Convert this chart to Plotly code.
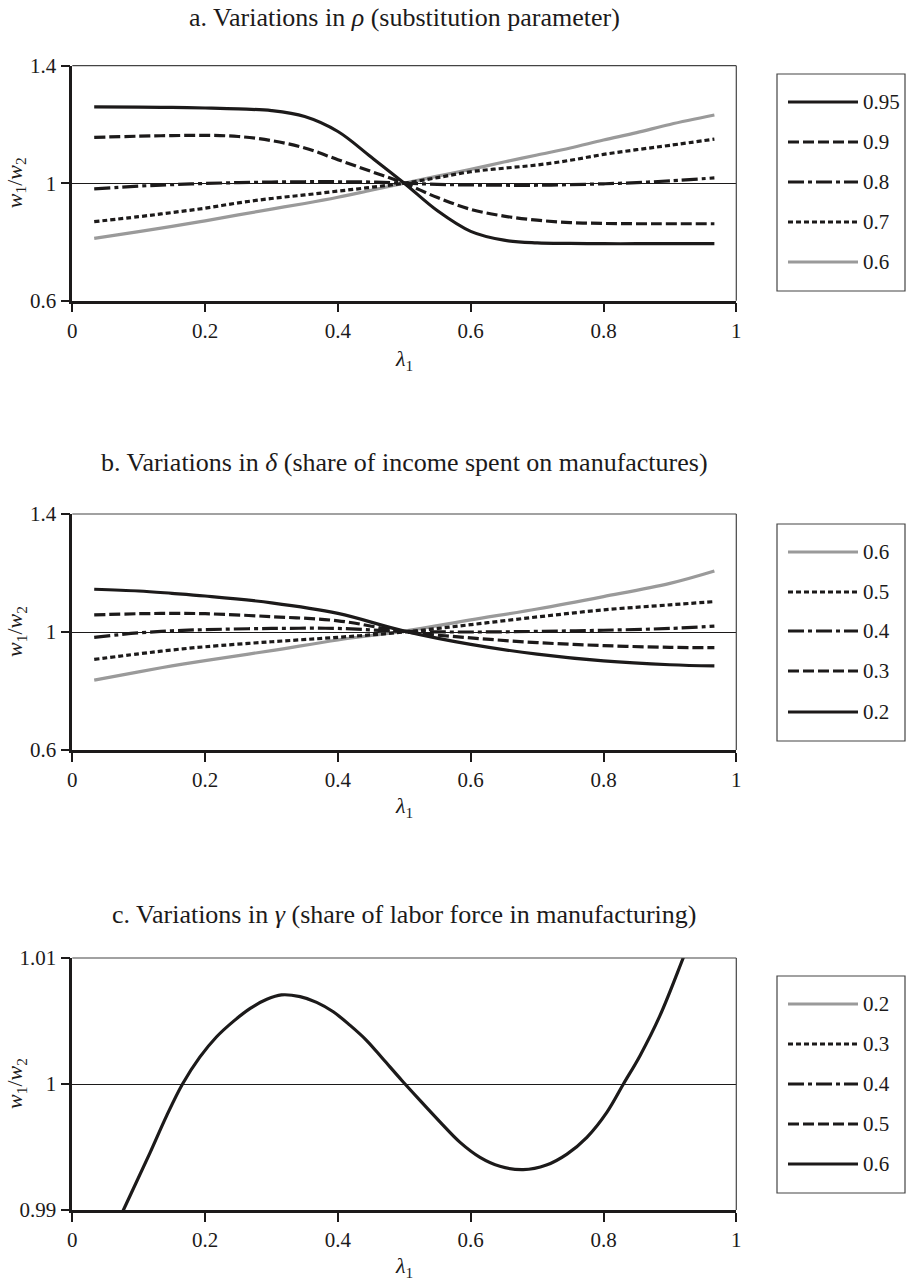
import plotly.graph_objects as go

# ---------------- data ----------------
# lambda_1 grid for panel a
lam_a = [0.033, 0.1, 0.15, 0.2, 0.25, 0.3, 0.35, 0.4, 0.45, 0.5, 0.55, 0.6, 0.65, 0.7, 0.75, 0.8, 0.85, 0.9, 0.967]
# panel a: w1/w2 for different substitution parameters rho
rho_labels = ["0.95", "0.9", "0.8", "0.7", "0.6"]
rho_095 = [1.260, 1.259, 1.258, 1.256, 1.253, 1.247, 1.227, 1.176, 1.089, 1.000, 0.906, 0.836, 0.806, 0.797, 0.795, 0.794, 0.794, 0.794, 0.794]
rho_090 = [1.156, 1.160, 1.162, 1.163, 1.159, 1.145, 1.120, 1.080, 1.040, 1.000, 0.951, 0.911, 0.888, 0.874, 0.866, 0.863, 0.862, 0.862, 0.862]
rho_080 = [0.981, 0.990, 0.995, 0.999, 1.002, 1.004, 1.005, 1.005, 1.004, 1.000, 0.996, 0.994, 0.993, 0.993, 0.995, 0.998, 1.002, 1.008, 1.018]
rho_070 = [0.869, 0.886, 0.900, 0.915, 0.933, 0.948, 0.960, 0.973, 0.986, 1.000, 1.019, 1.039, 1.051, 1.062, 1.078, 1.098, 1.114, 1.129, 1.150]
rho_060 = [0.812, 0.835, 0.853, 0.872, 0.892, 0.912, 0.931, 0.952, 0.976, 1.000, 1.024, 1.047, 1.072, 1.096, 1.120, 1.147, 1.172, 1.200, 1.232]

# panel b: w1/w2 for different shares of income spent on manufactures (delta)
lam_b = [0.033, 0.1, 0.15, 0.2, 0.3, 0.4, 0.5, 0.6, 0.7, 0.8, 0.9, 0.967]
delta_labels = ["0.6", "0.5", "0.4", "0.3", "0.2"]
delta_06 = [0.837, 0.865, 0.885, 0.903, 0.937, 0.973, 1.003, 1.041, 1.078, 1.120, 1.165, 1.207]
delta_05 = [0.907, 0.926, 0.939, 0.950, 0.967, 0.982, 1.000, 1.025, 1.051, 1.075, 1.092, 1.103]
delta_04 = [0.982, 0.997, 1.004, 1.008, 1.012, 1.012, 1.002, 1.000, 1.002, 1.006, 1.012, 1.020]
delta_03 = [1.058, 1.062, 1.063, 1.062, 1.052, 1.038, 1.001, 0.980, 0.964, 0.954, 0.948, 0.947]
delta_02 = [1.145, 1.139, 1.131, 1.122, 1.099, 1.063, 1.003, 0.958, 0.925, 0.902, 0.889, 0.885]

# panel c: w1/w2 for share of labor force in manufacturing gamma = 0.6
gamma_labels = ["0.2", "0.3", "0.4", "0.5", "0.6"]
lam_c = [0.033, 0.077, 0.117, 0.142, 0.166, 0.192, 0.217, 0.243, 0.268, 0.293, 0.315, 0.343, 0.368, 0.393,
         0.418, 0.443, 0.468, 0.496, 0.524, 0.554, 0.584, 0.614, 0.644, 0.679, 0.714, 0.745, 0.775, 0.805,
         0.830, 0.855, 0.885, 0.920, 0.967]
gamma_06 = [0.98500, 0.99000, 0.99453, 0.99747, 1.00000, 1.00213, 1.00373, 1.00499, 1.00600, 1.00672, 1.00707,
            1.00693, 1.00648, 1.00573, 1.00467, 1.00347, 1.00198, 1.00030, 0.99868, 0.99698, 0.99537, 0.99418,
            0.99347, 0.99320, 0.99357, 0.99444, 0.99577, 0.99775, 1.00000, 1.00225, 1.00542, 1.01000, 1.01650]

x_ticks = [0, 0.2, 0.4, 0.6, 0.8, 1]
x_ticktext = ["0", "0.2", "0.4", "0.6", "0.8", "1"]
ab_yticks = [0.6, 1.0, 1.4]
ab_yticktext = ["0.6", "1", "1.4"]
c_yticks = [0.99, 1.0, 1.01]
c_yticktext = ["0.99", "1", "1.01"]

titles = [
    "a. Variations in <i>ρ</i> (substitution parameter)",
    "b. Variations in <i>δ</i> (share of income spent on manufactures)",
    "c. Variations in <i>γ</i> (share of labor force in manufacturing)",
]

# ---------------- styling ----------------
W, H = 908, 1283
FONT = "Liberation Serif"
BLACK = "#1c1a1a"
GRAY = "#9a9a9a"
LW = 3.2
STYLES = {
    "solid": dict(color=BLACK, width=LW, dash="solid"),
    "dashed": dict(color=BLACK, width=LW, dash="11px,4px"),
    "dashdot": dict(color=BLACK, width=LW, dash="16px,4px,4px,4px"),
    "dotted": dict(color=BLACK, width=LW, dash="5px,3px"),
    "gray": dict(color=GRAY, width=LW, dash="solid"),
}


def px_x(p):
    return p / W


def px_y(p):
    return 1 - p / H


# plot-area pixel boxes
PLOT_L, PLOT_R = 72.3, 736.3
panels = [
    dict(top=65.7, bottom=300.7, title_y=18, xlab_y=360, legend=(74, 291), entries=[102, 142, 182, 222, 262]),
    dict(top=514, bottom=750, title_y=462, xlab_y=807, legend=(524, 741), entries=[552, 592, 631, 671, 712]),
    dict(top=958, bottom=1210, title_y=915, xlab_y=1267, legend=(976, 1193), entries=[1004, 1044, 1084, 1124, 1164]),
]

fig = go.Figure()

series_a = [(rho_095, "solid"), (rho_090, "dashed"), (rho_080, "dashdot"), (rho_070, "dotted"), (rho_060, "gray")]
series_b = [(delta_06, "gray"), (delta_05, "dotted"), (delta_04, "dashdot"), (delta_03, "dashed"), (delta_02, "solid")]
legend_styles_c = ["gray", "dotted", "dashdot", "dashed", "solid"]

# grey first so the black lines lie on top
for vals, st in sorted(series_a, key=lambda s: s[1] != "gray"):
    fig.add_trace(go.Scatter(x=lam_a, y=vals, mode="lines", line=dict(**STYLES[st], shape="spline", smoothing=1.0),
                             xaxis="x", yaxis="y", showlegend=False, hoverinfo="skip"))
for vals, st in sorted(series_b, key=lambda s: s[1] != "gray"):
    fig.add_trace(go.Scatter(x=lam_b, y=vals, mode="lines", line=dict(**STYLES[st], shape="spline", smoothing=1.0),
                             xaxis="x2", yaxis="y2", showlegend=False, hoverinfo="skip"))
fig.add_trace(go.Scatter(x=lam_c, y=gamma_06, mode="lines", line=dict(**STYLES["solid"], shape="spline", smoothing=1.0),
                         xaxis="x3", yaxis="y3", showlegend=False, hoverinfo="skip"))

axis_common_x = dict(range=[0, 1], tickvals=x_ticks, ticktext=x_ticktext, ticks="outside", ticklen=9,
                     tickwidth=1.5, tickcolor=BLACK, showline=True, linewidth=2.5, linecolor=BLACK,
                     showgrid=False, zeroline=False, tickfont=dict(family=FONT, size=21, color=BLACK),
                     domain=[px_x(PLOT_L), px_x(PLOT_R)], fixedrange=True, automargin=False)
axis_common_y = dict(ticks="outside", ticklen=9, tickwidth=1.5, tickcolor=BLACK, showline=True, linewidth=2.5,
                     linecolor=BLACK, showgrid=True, gridcolor=BLACK, gridwidth=1, zeroline=False,
                     tickfont=dict(family=FONT, size=21, color=BLACK), fixedrange=True, automargin=False)

layout = dict(width=W, height=H, margin=dict(l=0, r=0, t=0, b=0, pad=0, autoexpand=False),
              paper_bgcolor="white", plot_bgcolor="white", showlegend=False,
              font=dict(family=FONT, color=BLACK))
yranges = [([0.6, 1.4], ab_yticks, ab_yticktext), ([0.6, 1.4], ab_yticks, ab_yticktext), ([0.99, 1.01], c_yticks, c_yticktext)]
for i, p in enumerate(panels):
    sfx = "" if i == 0 else str(i + 1)
    rng, tv, tt = yranges[i]
    layout["xaxis" + sfx] = dict(axis_common_x, anchor="y" + sfx)
    layout["yaxis" + sfx] = dict(axis_common_y, anchor="x" + sfx, range=rng, tickvals=tv, ticktext=tt,
                                 domain=[px_y(p["bottom"]), px_y(p["top"])])
fig.update_layout(**layout)

shapes, annotations = [], []
legend_sets = [
    (rho_labels, [s for _, s in series_a]),
    (delta_labels, [s for _, s in series_b]),
    (gamma_labels, legend_styles_c),
]
for i, p in enumerate(panels):
    sfx = "" if i == 0 else str(i + 1)
    # thin top and right frame of the plot area
    shapes.append(dict(type="line", xref="x" + sfx + " domain", yref="y" + sfx + " domain", x0=0, x1=1, y0=1, y1=1,
                       line=dict(color="#444", width=1.2)))
    shapes.append(dict(type="line", xref="x" + sfx + " domain", yref="y" + sfx + " domain", x0=1, x1=1, y0=0, y1=1,
                       line=dict(color="#444", width=1.2)))
    # panel title
    annotations.append(dict(text=titles[i], x=px_x((PLOT_L + PLOT_R) / 2), y=px_y(p["title_y"]), xref="paper",
                            yref="paper", showarrow=False, xanchor="center", yanchor="middle",
                            font=dict(family=FONT, size=26, color=BLACK)))
    # axis titles
    annotations.append(dict(text="<i>w</i><sub>1</sub>/<i>w</i><sub>2</sub>", x=px_x(16),
                            y=px_y((p["top"] + p["bottom"]) / 2), xref="paper", yref="paper", showarrow=False,
                            textangle=-90, xanchor="center", yanchor="middle",
                            font=dict(family=FONT, size=22, color=BLACK)))
    annotations.append(dict(text="<i>λ</i><sub>1</sub>", x=px_x((PLOT_L + PLOT_R) / 2), y=px_y(p["xlab_y"]),
                            xref="paper", yref="paper", showarrow=False, xanchor="center", yanchor="middle",
                            font=dict(family=FONT, size=22, color=BLACK)))
    # legend box
    ly0, ly1 = p["legend"]
    shapes.append(dict(type="rect", xref="paper", yref="paper", x0=px_x(777), x1=px_x(905), y0=px_y(ly1), y1=px_y(ly0),
                       line=dict(color="#444", width=1.2), fillcolor="white"))
    labels, styles = legend_sets[i]
    for lab, st, ey in zip(labels, styles, p["entries"]):
        shapes.append(dict(type="line", xref="paper", yref="paper", x0=px_x(788), x1=px_x(858), y0=px_y(ey),
                           y1=px_y(ey), line=STYLES[st]))
        annotations.append(dict(text=lab, x=px_x(861), y=px_y(ey), xref="paper", yref="paper", showarrow=False,
                                xanchor="left", yanchor="middle", font=dict(family=FONT, size=21, color=BLACK)))

fig.update_layout(shapes=shapes, annotations=annotations)
fig.write_html("out.html", post_script="document.body.style.margin='0';")
